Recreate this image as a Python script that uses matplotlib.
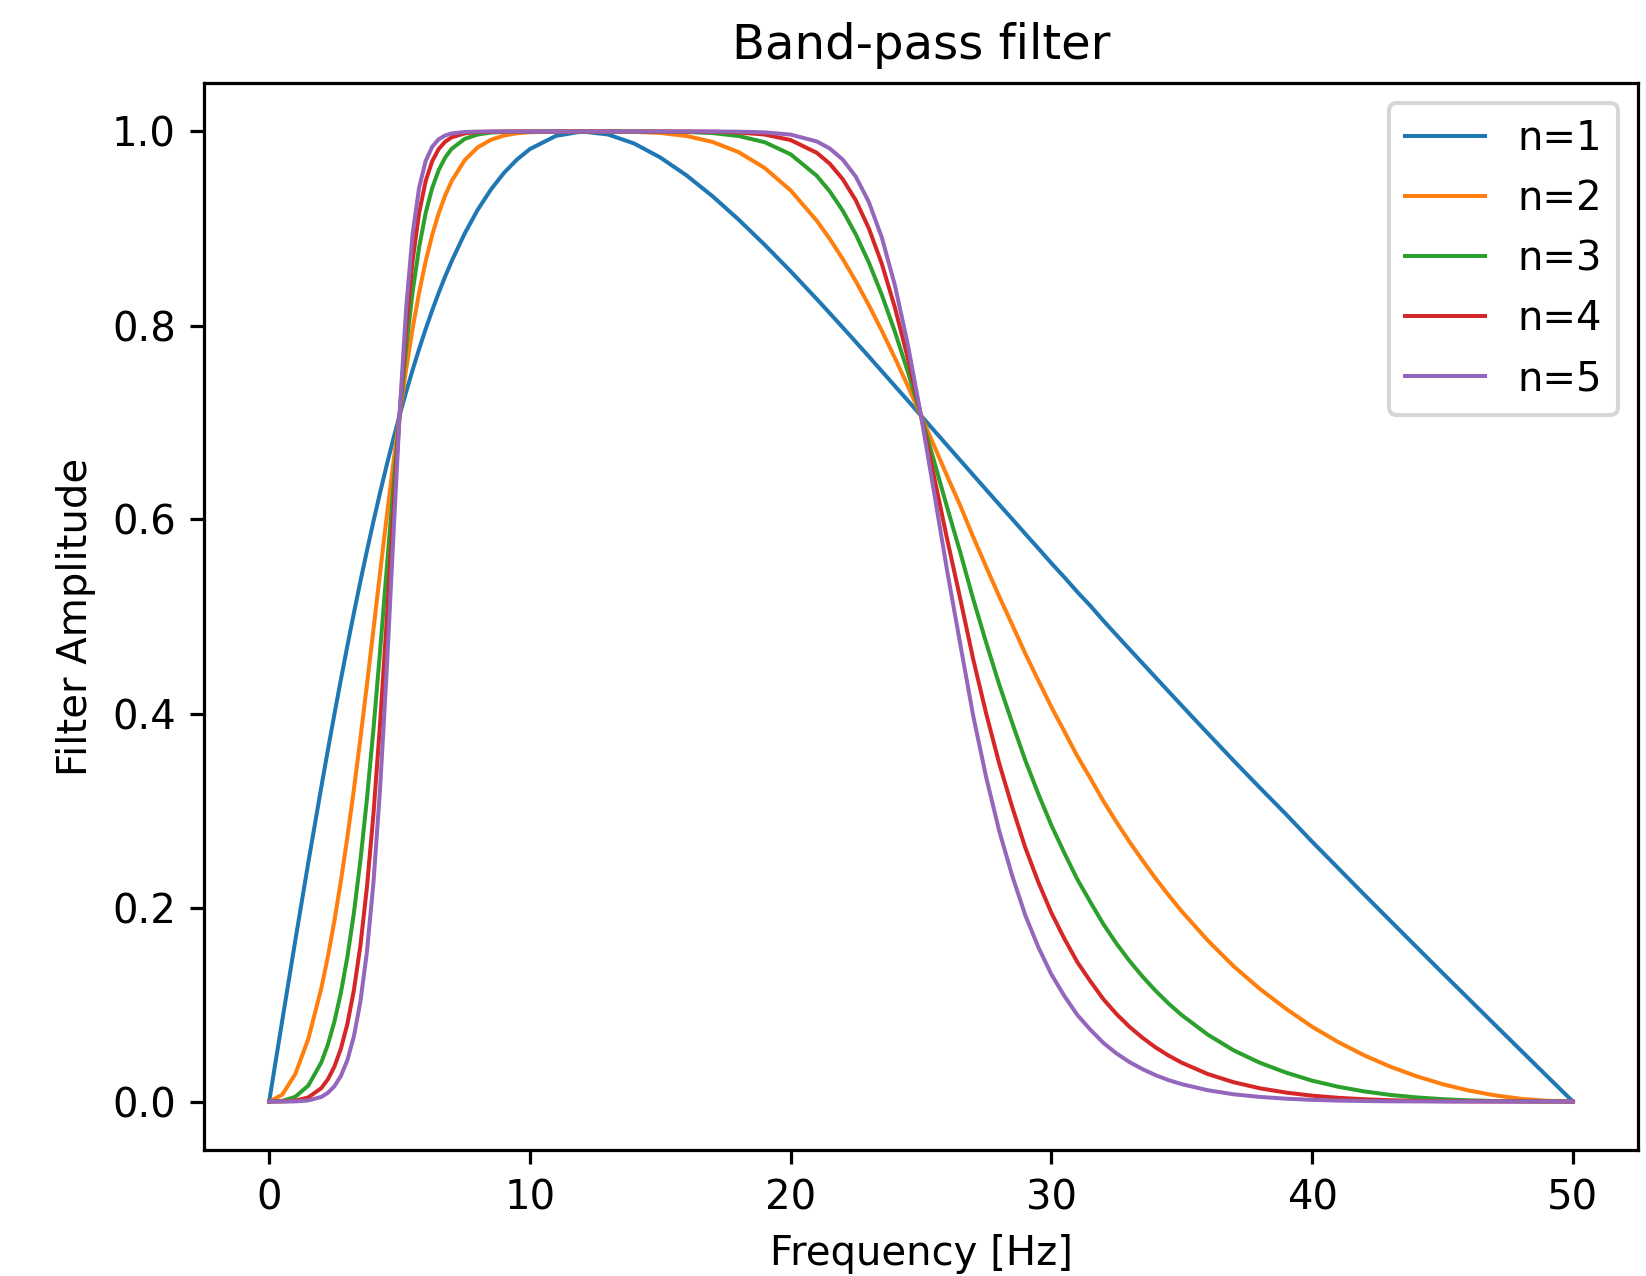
import matplotlib
matplotlib.use("Agg")
import matplotlib.pyplot as plt

# frequency samples (Hz) and amplitude for each order
freq = [0, 0.5, 1, 1.5, 2, 2.25, 2.5, 2.75, 3, 3.25,
        3.5, 3.75, 4, 4.25, 4.5, 4.75, 5, 5.25, 5.5, 5.75,
        6, 6.25, 6.5, 6.75, 7, 7.5, 8, 8.5, 9, 9.5,
        10, 11, 12, 13, 14, 15, 16, 17, 18, 19,
        20, 21, 21.5, 22, 22.5, 23, 23.5, 24, 24.5, 25,
        25.5, 26, 26.5, 27, 27.5, 28, 28.5, 29, 29.5, 30,
        30.5, 31, 31.5, 32, 32.5, 33, 33.5, 34, 34.5, 35,
        36, 37, 38, 39, 40, 41, 42, 43, 44, 45,
        46, 47, 48, 49, 50]

amp_n1 = [0.0, 0.0833, 0.1657, 0.2463, 0.3243, 0.3622, 0.3991, 0.4350, 0.4699, 0.5037,
          0.5364, 0.5679, 0.5982, 0.6273, 0.6552, 0.6818, 0.7071, 0.7312, 0.7541, 0.7757,
          0.7962, 0.8155, 0.8336, 0.8506, 0.8664, 0.8949, 0.9194, 0.9400, 0.9572, 0.9710,
          0.9819, 0.9955, 1.0, 0.9969, 0.9876, 0.9732, 0.9549, 0.9334, 0.9093, 0.8833,
          0.8559, 0.8273, 0.8127, 0.7979, 0.7830, 0.7680, 0.7528, 0.7376, 0.7224, 0.7071,
          0.6918, 0.6765, 0.6612, 0.6459, 0.6307, 0.6155, 0.6004, 0.5852, 0.5702, 0.5550,
          0.5404, 0.5252, 0.5109, 0.4955, 0.4808, 0.4662, 0.4517, 0.4371, 0.4226, 0.4082,
          0.3795, 0.3511, 0.3234, 0.2961, 0.2679, 0.2406, 0.2133, 0.1863, 0.1594, 0.1326,
          0.1060, 0.0794, 0.0529, 0.0264, 0.0]
amp_n2 = [0.0, 0.0070, 0.0282, 0.0645, 0.1168, 0.1493, 0.1861, 0.2273, 0.2727, 0.3219,
          0.3745, 0.4299, 0.4868, 0.5443, 0.6010, 0.6557, 0.7071, 0.7543, 0.7968, 0.8339,
          0.8660, 0.8931, 0.9156, 0.9341, 0.9490, 0.9705, 0.9837, 0.9914, 0.9958, 0.9982,
          0.9993, 1.0, 1.0, 1.0, 0.9997, 0.9985, 0.9954, 0.9893, 0.9788, 0.9625,
          0.9393, 0.9081, 0.8893, 0.8685, 0.8456, 0.8209, 0.7944, 0.7665, 0.7373, 0.7071,
          0.6762, 0.6449, 0.6147, 0.5821, 0.5511, 0.5206, 0.4914, 0.4618, 0.4340, 0.4067,
          0.3814, 0.3559, 0.3330, 0.3095, 0.2880, 0.2676, 0.2484, 0.2299, 0.2125, 0.1961,
          0.1660, 0.1392, 0.1160, 0.0956, 0.0771, 0.0613, 0.0476, 0.0359, 0.0261, 0.0179,
          0.0114, 0.0064, 0.0028, 0.0007, 0.0]
amp_n3 = [0.0, 0.0006, 0.0048, 0.0164, 0.0403, 0.0586, 0.0822, 0.1121, 0.1492, 0.1945,
          0.2487, 0.3121, 0.3841, 0.4632, 0.5463, 0.6291, 0.7071, 0.7763, 0.8344, 0.8805,
          0.9158, 0.9416, 0.9601, 0.9732, 0.9822, 0.9924, 0.9969, 0.9989, 0.9996, 0.9999,
          1.0, 1.0, 1.0, 1.0, 1.0, 0.9999, 0.9995, 0.9984, 0.9954, 0.9890,
          0.9765, 0.9544, 0.9383, 0.9183, 0.8939, 0.8649, 0.8314, 0.7935, 0.7518, 0.7071,
          0.6604, 0.6127, 0.5667, 0.5182, 0.4730, 0.4299, 0.3902, 0.3517, 0.3171, 0.2848,
          0.2561, 0.2288, 0.2054, 0.1826, 0.1627, 0.1448, 0.1287, 0.1141, 0.1009, 0.0891,
          0.0689, 0.0526, 0.0399, 0.0298, 0.0215, 0.0152, 0.0104, 0.0068, 0.0042, 0.0024,
          0.0012, 0.0005, 0.0002, 0.0, 0.0]
amp_n4 = [0.0, 0.0001, 0.0008, 0.0042, 0.0138, 0.0228, 0.0359, 0.0544, 0.0800, 0.1149,
          0.1610, 0.2211, 0.2966, 0.3880, 0.4923, 0.6021, 0.7071, 0.7971, 0.8668, 0.9160,
          0.9487, 0.9693, 0.9819, 0.9895, 0.9940, 0.9981, 0.9994, 0.9998, 1.0, 1.0,
          1.0, 1.0, 1.0, 1.0, 1.0, 1.0, 1.0, 0.9998, 0.9990, 0.9969,
          0.9912, 0.9781, 0.9668, 0.9508, 0.9290, 0.9001, 0.8634, 0.8184, 0.7659, 0.7071,
          0.6444, 0.5801, 0.5190, 0.4562, 0.3999, 0.3485, 0.3034, 0.2617, 0.2261, 0.1945,
          0.1678, 0.1435, 0.1238, 0.1053, 0.0901, 0.0769, 0.0656, 0.0557, 0.0473, 0.0400,
          0.0283, 0.0198, 0.0136, 0.0092, 0.0060, 0.0038, 0.0023, 0.0013, 0.0007, 0.0003,
          0.0001, 0.0, 0.0, 0.0, 0.0]
amp_n5 = [0.0, 0.0, 0.0001, 0.0011, 0.0047, 0.0089, 0.0156, 0.0263, 0.0427, 0.0673,
          0.1032, 0.1545, 0.2259, 0.3211, 0.4404, 0.5750, 0.7071, 0.8166, 0.8941, 0.9420,
          0.9694, 0.9842, 0.9920, 0.9959, 0.9980, 0.9995, 0.9999, 1.0, 1.0, 1.0,
          1.0, 1.0, 1.0, 1.0, 1.0, 1.0, 1.0, 1.0, 0.9998, 0.9991,
          0.9968, 0.9898, 0.9825, 0.9710, 0.9534, 0.9273, 0.8905, 0.8413, 0.7795, 0.7071,
          0.6282, 0.5475, 0.4724, 0.3979, 0.3342, 0.2789, 0.2326, 0.1920, 0.1591, 0.1311,
          0.1087, 0.0891, 0.0739, 0.0603, 0.0495, 0.0406, 0.0333, 0.0271, 0.0220, 0.0179,
          0.0116, 0.0074, 0.0047, 0.0029, 0.0017, 0.0009, 0.0005, 0.0002, 0.0001, 0.0,
          0.0, 0.0, 0.0, 0.0, 0.0]

orders = [1, 2, 3, 4, 5]
curves = [amp_n1, amp_n2, amp_n3, amp_n4, amp_n5]

fig = plt.figure(figsize=(1646 / 289, 1276 / 289), dpi=289)
ax = fig.add_axes([204 / 1646, 126 / 1276, 1434 / 1646, 1067 / 1276])

for n, amp in zip(orders, curves):
    ax.plot(freq, amp, lw=1.0, label="n=%d" % n)

ax.set_title("Band-pass filter")
ax.set_xlabel("Frequency [Hz]")
ax.set_ylabel("Filter Amplitude")
ax.legend(loc="upper right")

fig.savefig("out.png", dpi=289)
